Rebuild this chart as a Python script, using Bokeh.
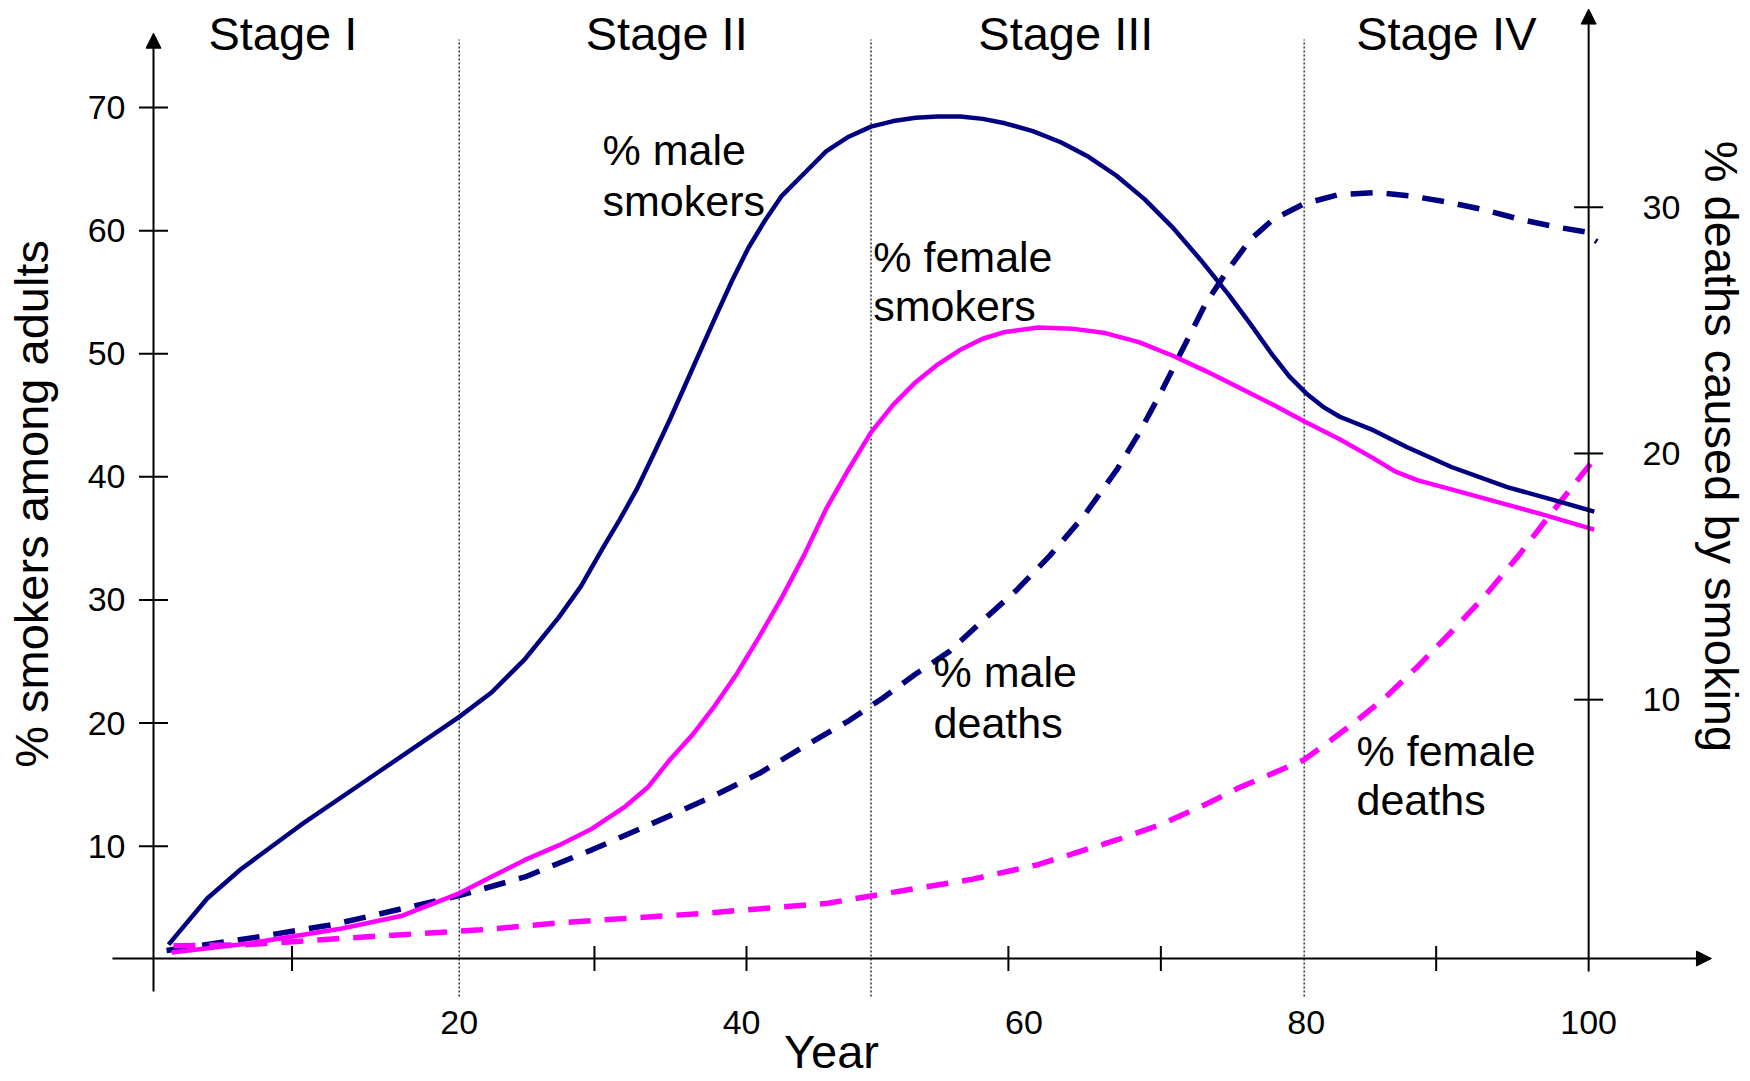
import math
from bokeh.plotting import figure
from bokeh.models import Range1d, Arrow, NormalHead, ColumnDataSource
from bokeh.core.properties import value
from bokeh.embed import file_html
from bokeh.resources import INLINE

# ---------------- data ----------------
MALE_SMOKERS_X = [-0.59, 2.15, 4.51, 8.76, 14.0, 20.0, 22.29, 24.66, 27.04, 28.62,
                  30.2, 31.38, 32.57, 33.75, 34.94, 36.52, 38.10, 39.29, 40.47, 41.66,
                  42.85, 44.43, 46.01, 47.59, 49.17, 50.75, 52.33, 53.91, 55.49, 57.08,
                  58.66, 60.63, 62.61, 64.58, 66.56, 68.54, 70.51, 72.49, 74.47, 76.05,
                  77.63, 78.81, 80.0, 81.19, 82.37, 84.74, 87.11, 90.28, 94.23, 98.18, 100.4]
MALE_SMOKERS = [2.0, 5.75, 8.1, 11.7, 15.8, 20.5, 22.48, 25.20, 28.56, 31.10,
                34.27, 36.54, 38.98, 41.79, 44.70, 48.78, 52.86, 55.85, 58.57, 60.83,
                62.83, 64.64, 66.46, 67.63, 68.45, 68.90, 69.17, 69.27, 69.27, 69.08,
                68.72, 68.09, 67.18, 66.00, 64.46, 62.56, 60.29, 57.66, 54.85, 52.40,
                49.86, 48.14, 46.78, 45.69, 44.88, 43.79, 42.43, 40.80, 39.17, 37.90, 37.17]

FEMALE_SMOKERS_X = [-0.37, 5.22, 11.59, 15.97, 20.0, 22.29, 24.66, 27.04, 29.41, 31.78,
                    33.36, 34.94, 36.52, 38.10, 39.68, 41.26, 42.85, 44.43, 46.01, 47.59,
                    49.17, 50.75, 52.33, 53.91, 55.49, 57.08, 58.66, 61.03, 63.40, 65.77,
                    68.14, 70.51, 72.89, 75.26, 77.63, 79.84, 82.37, 84.74, 86.32, 87.91,
                    90.28, 93.44, 96.6, 100.4]
FEMALE_SMOKERS = [1.36, 2.12, 3.29, 4.35, 6.17, 7.52, 8.88, 10.06, 11.42, 13.24,
                  14.78, 17.04, 19.04, 21.40, 24.03, 27.02, 30.19, 33.64, 37.44, 40.62,
                  43.61, 45.87, 47.69, 49.14, 50.32, 51.22, 51.77, 52.13, 52.04, 51.68,
                  50.95, 49.86, 48.59, 47.23, 45.87, 44.51, 43.06, 41.52, 40.43, 39.71,
                  38.98, 37.99, 36.99, 35.72]

# deaths are read on the right axis (% deaths caused by smoking)
MALE_DEATHS_X = [-0.73, 5.93, 11.1, 20.0, 24.66, 29.4, 34.94, 38.10, 41.26, 44.43,
                 47.59, 49.96, 52.33, 54.70, 57.08, 59.45, 61.82, 64.19, 66.56, 68.14,
                 69.72, 71.30, 72.89, 74.47, 76.05, 77.63, 79.84, 82.2, 84.9, 87.5,
                 90.1, 92.6, 95.2, 97.7, 99.8, 100.2, 100.6]
MALE_DEATHS = [-0.19, 0.38, 0.87, 2.04, 2.8, 3.9, 5.29, 6.11, 7.01, 8.10,
               9.14, 10.05, 11.04, 11.95, 13.21, 14.43, 15.84, 17.42, 19.32, 20.81,
               22.49, 24.30, 26.11, 27.47, 28.69, 29.50, 30.14, 30.5, 30.6, 30.45,
               30.2, 29.9, 29.5, 29.2, 29.0, 28.75, 28.6]

FEMALE_DEATHS_X = [-0.24, 5.0, 11.6, 21.5, 27.4, 37.3, 46.1, 52.0, 56.3, 61.0,
                   66.56, 69.72, 72.89, 75.26, 77.63, 79.84, 81.58, 83.56, 85.53, 87.91,
                   90.28, 92.65, 95.02, 97.39, 100.4]
FEMALE_DEATHS = [0.0, 0.05, 0.3, 0.65, 0.95, 1.32, 1.73, 2.3, 2.7, 3.3,
                 4.30, 4.93, 5.75, 6.43, 7.01, 7.56, 8.28, 9.14, 10.05, 11.36,
                 12.76, 14.21, 15.84, 17.60, 19.77]

LEFT_TICKS = [10, 20, 30, 40, 50, 60, 70]
RIGHT_TICKS = [10, 20, 30]
X_LABELS = [20, 40, 60, 80, 100]
X_TICK_MARKS = [8.16, 29.58, 40.35, 58.9, 69.7, 89.2]
STAGE_BOUNDS = [20.0, 49.17, 79.85]
STAGE_NAMES = ["Stage I", "Stage II", "Stage III", "Stage IV"]

# ---------------- layout ----------------
W, H = 1750, 1081
PX_X0, PX_PER_X = 176.34, 14.118        # canvas px of x=0, px per year
PX_Y0, PX_PER_Y = 968.75, 12.310        # canvas px (from top) of left 0, px per %
RIGHT_OFFSET, RIGHT_FACTOR = 1.9, 2.0   # left value = RIGHT_FACTOR*right + RIGHT_OFFSET

x_lo, x_hi = -PX_X0 / PX_PER_X, (W - PX_X0) / PX_PER_X
y_lo, y_hi = (PX_Y0 - H) / PX_PER_Y, PX_Y0 / PX_PER_Y

NAVY = "#000080"
MAGENTA = "#FF00FF"
FONT = "Liberation Sans"

p = figure(width=W, height=H, x_range=Range1d(x_lo, x_hi), y_range=Range1d(y_lo, y_hi),
           output_backend="svg", toolbar_location=None,
           x_axis_location=None, y_axis_location=None,
           min_border=0, outline_line_color=None,
           background_fill_color="white", border_fill_color="white")
p.xgrid.visible = False
p.ygrid.visible = False
p.extra_y_ranges = {"right": Range1d((y_lo - RIGHT_OFFSET) / RIGHT_FACTOR,
                                     (y_hi - RIGHT_OFFSET) / RIGHT_FACTOR)}

AXIS_LEFT_X = -1.653
AXIS_RIGHT_X = 100.0
AXIS_X_Y = 0.873
TICK_HX = 14.5 / PX_PER_X
TICK_HY = 12.5 / PX_PER_Y

# stage dividers (dotted)
p.segment(x0=STAGE_BOUNDS, y0=[-2.21] * 3, x1=STAGE_BOUNDS, y1=[75.53] * 3,
          line_color="black", line_width=1.2, line_dash="2 2")

# axes with arrow heads
def head():
    return NormalHead(size=15, fill_color="black", line_color="black", line_width=1)

p.add_layout(Arrow(end=head(), x_start=-4.56, y_start=AXIS_X_Y, x_end=108.7, y_end=AXIS_X_Y,
                   line_color="black", line_width=2))
p.add_layout(Arrow(end=head(), x_start=AXIS_LEFT_X, y_start=-1.81, x_end=AXIS_LEFT_X, y_end=76.04,
                   line_color="black", line_width=2))
p.add_layout(Arrow(end=head(), x_start=AXIS_RIGHT_X, y_start=-0.18, x_end=AXIS_RIGHT_X, y_end=78.0,
                   line_color="black", line_width=2))

# tick marks (crossing the axis lines)
p.segment(x0=[AXIS_LEFT_X - TICK_HX] * len(LEFT_TICKS), y0=LEFT_TICKS,
          x1=[AXIS_LEFT_X + TICK_HX] * len(LEFT_TICKS), y1=LEFT_TICKS,
          line_color="black", line_width=2)
p.segment(x0=[AXIS_RIGHT_X - TICK_HX] * len(RIGHT_TICKS), y0=RIGHT_TICKS,
          x1=[AXIS_RIGHT_X + TICK_HX] * len(RIGHT_TICKS), y1=RIGHT_TICKS,
          line_color="black", line_width=2, y_range_name="right")
p.segment(x0=X_TICK_MARKS, y0=[AXIS_X_Y - TICK_HY] * len(X_TICK_MARKS),
          x1=X_TICK_MARKS, y1=[AXIS_X_Y + TICK_HY] * len(X_TICK_MARKS),
          line_color="black", line_width=2)

# curves
p.line(MALE_DEATHS_X, MALE_DEATHS, y_range_name="right", line_color=NAVY, line_width=5.5,
       line_dash="22 14", line_cap="butt", line_join="round")
p.line(FEMALE_DEATHS_X, FEMALE_DEATHS, y_range_name="right", line_color=MAGENTA, line_width=5.5,
       line_dash="22 14", line_cap="butt", line_join="round")
p.line(FEMALE_SMOKERS_X, FEMALE_SMOKERS, line_color=MAGENTA, line_width=4.5,
       line_join="round", line_cap="butt")
p.line(MALE_SMOKERS_X, MALE_SMOKERS, line_color=NAVY, line_width=4.5,
       line_join="round", line_cap="butt")


def add_text(xs, ys, texts, size, align="left", angle=0.0, y_range_name="default"):
    src = ColumnDataSource(dict(x=xs, y=ys, text=texts))
    p.text(x="x", y="y", text="text", source=src, text_font=value(FONT),
           text_font_size=value(size), text_align=align, text_baseline="middle",
           angle=angle, text_color="black", y_range_name=y_range_name)


# tick labels
add_text([-3.64] * len(LEFT_TICKS), LEFT_TICKS, [str(t) for t in LEFT_TICKS], "34px", align="right")
add_text([103.82] * len(RIGHT_TICKS), RIGHT_TICKS, [str(t) for t in RIGHT_TICKS], "34px",
         align="left", y_range_name="right")
add_text(X_LABELS, [-4.33] * len(X_LABELS), [str(t) for t in X_LABELS], "34px", align="center")

# axis titles
add_text([-10.29], [37.8], ["% smokers among adults"], "47px", align="center", angle=math.pi / 2)
add_text([109.41], [42.47], ["% deaths caused by smoking"], "47px", align="center", angle=-math.pi / 2)
add_text([46.37], [-6.68], ["Year"], "47px", align="center")

# stage titles
add_text([7.51, 34.70, 62.97, 89.92], [75.98] * 4, STAGE_NAMES, "47px", align="center")

# curve labels
add_text([30.15, 30.15, 49.33, 49.33, 53.60, 53.60, 83.56, 83.56],
         [66.55, 62.43, 57.86, 53.88, 24.15, 20.04, 17.77, 13.71],
         ["% male", "smokers", "% female", "smokers", "% male", "deaths", "% female", "deaths"],
         "43px")

open("out.html", "w").write(file_html(p, INLINE))
